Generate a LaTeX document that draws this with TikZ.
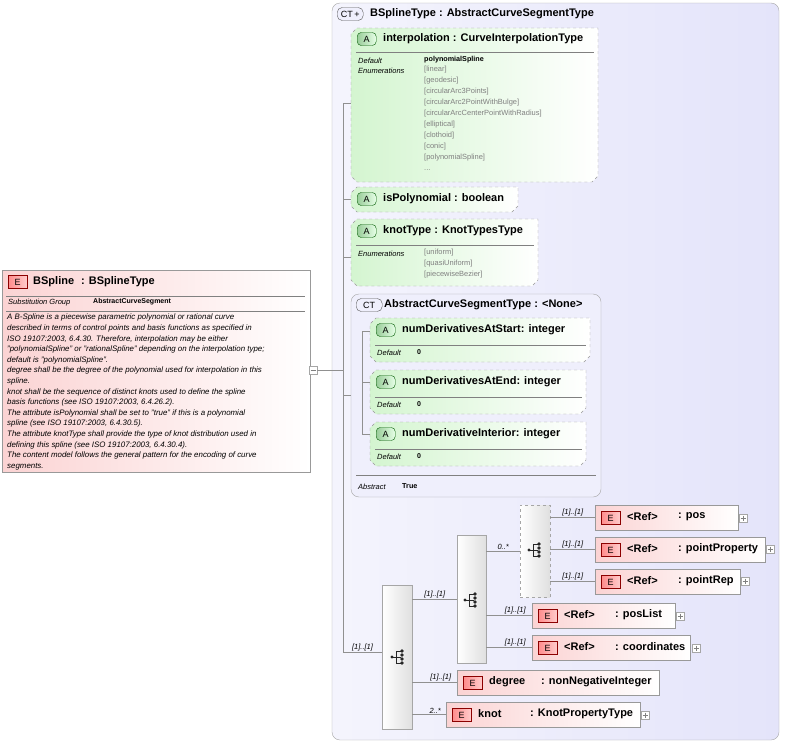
\documentclass[tikz,border=0pt]{standalone}
\usepackage{fontspec}
\setmainfont{Liberation Sans}
\definecolor{lav}{HTML}{E4E4FA}
\definecolor{grn}{HTML}{D4F5D0}
\definecolor{pnk}{HTML}{FBD3D3}
\definecolor{gline}{HTML}{909090}
\tikzset{
 ln/.style={draw=gline, line width=0.6pt},
 ttl/.style={font=\fontsize{11}{12}\selectfont\bfseries, anchor=west, inner sep=0},
 sm/.style={font=\fontsize{7.5}{10}\selectfont, anchor=west, inner sep=0},
 smi/.style={font=\fontsize{7.5}{10}\selectfont\itshape, anchor=west, inner sep=0},
 enum/.style={font=\fontsize{7.5}{11}\selectfont, text=gray, anchor=north west, inner sep=0, align=left},
 card/.style={font=\fontsize{7.5}{9}\selectfont\itshape, anchor=south, inner sep=1pt},
 eic/.style={draw=red!55!black, left color=red!45, right color=red!20, font=\fontsize{9}{9}\selectfont, minimum width=19pt, minimum height=13pt, inner sep=0, anchor=west},
 aic/.style={draw=green!35!black, rounded corners=4pt, left color=green!50!black!40, right color=green!10, font=\fontsize{9}{9}\selectfont, minimum width=19pt, minimum height=13pt, inner sep=0, anchor=west},
 ctic/.style={draw=gray!70!black, rounded corners=5pt, fill=lav!60, font=\fontsize{9}{9}\selectfont, minimum width=26pt, minimum height=13pt, inner sep=0, anchor=west},
 elem/.style={draw=gray!80, left color=pnk, right color=white, anchor=north west, inner sep=0, minimum height=25pt},
 attr/.style={draw=gray!80, dashed, left color=grn, right color=white},
 seqb/.style={draw=gray!70, left color=white, right color=gray!25, anchor=north west, inner sep=0},
 plusb/.style={draw=gray!70, fill=white, minimum size=8pt, inner sep=0},
}
\newcommand\seqicon[2]{%
 \fill[gray!30!black] (#1-6,#2) circle (1.6pt);
 \draw[gray!30!black,line width=0.8pt] (#1-6,#2)--(#1-2,#2) (#1-2,#2+6)--(#1-2,#2-6)
   (#1-2,#2-6)--(#1+3,#2-6) (#1-2,#2)--(#1+3,#2) (#1-2,#2+6)--(#1+3,#2+6);
 \fill[gray!30!black] (#1+4,#2-6) circle (1.8pt) (#1+4,#2-2) circle (1.8pt) (#1+4,#2+2) circle (1.8pt) (#1+4,#2+6) circle (1.8pt);}
\newcommand\plusm[2]{\node[plusb] at (#1,#2) {}; \draw[gray] (#1-2.5,#2)--(#1+2.5,#2) (#1,#2-2.5)--(#1,#2+2.5);}
\newcommand\attrbox[4]{%
 \draw[attr] (#1+6,#2)--(#3,#2)--(#3,#4-6)--(#3-6,#4)--(#1+6,#4)--(#1,#4-6)--(#1,#2+6)--cycle;}
\begin{document}
\begin{tikzpicture}[x=1pt,y=-1pt]
\useasboundingbox (0,0) rectangle (785,744);
% Left element
\node[draw=gray!80, left color=pnk, right color=white, minimum width=308pt, minimum height=202pt, anchor=north west, inner sep=0] (bs) at (2,270) {};
\node[eic] (bse) at (8,282) {E};
\node[ttl] at (33,282) {BSpline\hspace{7pt}: BSplineType};
\draw[gray] (6,296)--(305,296) (6,311)--(305,311);
\node[smi] at (8,303) {Substitution Group};
\node[sm, font=\fontsize{7}{9}\selectfont\bfseries] at (93,302) {AbstractCurveSegment};
\node[font=\fontsize{7.9}{10.6}\selectfont\itshape, anchor=north west, inner sep=0, align=left] at (7,314) {A B-Spline is a piecewise parametric polynomial or rational curve\\described in terms of control points and basis functions as specified in\\ISO 19107:2003, 6.4.30. Therefore, interpolation may be either\\"polynomialSpline" or "rationalSpline" depending on the interpolation type;\\default is "polynomialSpline".\\degree shall be the degree of the polynomial used for interpolation in this\\spline.\\knot shall be the sequence of distinct knots used to define the spline\\basis functions (see ISO 19107:2003, 6.4.26.2).\\The attribute isPolynomial shall be set to "true" if this is a polynomial\\spline (see ISO 19107:2003, 6.4.30.5).\\The attribute knotType shall provide the type of knot distribution used in\\defining this spline (see ISO 19107:2003, 6.4.30.4).\\The content model follows the general pattern for the encoding of curve\\segments.};
\node[plusb] (minus) at (313,370) {}; \draw[gray] (310.5,370)--(315.5,370);
% Outer CT
\draw[draw=gray!70, rounded corners=8pt, left color=lav!40, right color=lav] (332,3) rectangle (779,740);
\node[ctic] at (337,14) {CT\,+};
\node[ttl] at (370,14) {BSplineType : AbstractCurveSegmentType};
\draw[ln] (minus.east)--(343,370);
\draw[ln] (343,103)--(343,652);
\draw[ln] (343,103)--(351,103) (343,199)--(351,199) (343,257)--(351,257) (343,395)--(351,395);
% interpolation
\attrbox{351}{28}{598}{182}
\node[aic] at (357,39) {A};
\node[ttl] at (383,39) {interpolation : CurveInterpolationType};
\draw[gray] (356,52)--(594,52);
\node[smi] at (358,61) {Default};
\node[smi] at (358,71) {Enumerations};
\node[sm, font=\fontsize{7.2}{9}\selectfont\bfseries] at (424,60) {polynomialSpline};
\node[enum] at (424,66) {{[linear]}\\{[geodesic]}\\{[circularArc3Points]}\\{[circularArc2PointWithBulge]}\\{[circularArcCenterPointWithRadius]}\\{[elliptical]}\\{[clothoid]}\\{[conic]}\\{[polynomialSpline]}\\...};
% isPolynomial
\attrbox{351}{187}{518}{212}
\node[aic] at (357,199) {A};
\node[ttl] at (383,199) {isPolynomial : boolean};
% knotType
\attrbox{351}{219}{538}{286}
\node[aic] at (357,231) {A};
\node[ttl] at (383,231) {knotType : KnotTypesType};
\draw[gray] (356,245)--(534,245);
\node[smi] at (358,254) {Enumerations};
\node[enum] at (424,249) {{[uniform]}\\{[quasiUniform]}\\{[piecewiseBezier]}};
% inner CT
\draw[draw=gray!70, rounded corners=8pt, fill=white!40!lav] (351,294) rectangle (601,497);
\node[ctic] at (356,305) {CT};
\node[ttl] at (384,305) {AbstractCurveSegmentType : <None>};
\draw[ln] (362,331)--(362,434) (362,331)--(370,331) (362,382)--(370,382) (362,434)--(370,434);
\draw[gray] (356,475)--(596,475);
\node[smi] at (358,487) {Abstract};
\node[sm, font=\fontsize{7.2}{9}\selectfont\bfseries] at (402,486) {True};
\foreach \y/\x/\t in {318/590/numDerivativesAtStart, 370/586/numDerivativesAtEnd, 422/586/numDerivativeInterior}{
 \attrbox{370}{\y}{\x}{\y+44}
 \node[aic] at (376,\y+12) {A};
 \node[ttl] at (402,\y+12) {\t : integer};
 \draw[gray] (375,\y+27)--(\x-4,\y+27);
 \node[smi] at (377,\y+35) {Default};
 \node[sm, font=\fontsize{7}{9}\selectfont\bfseries] at (417,\y+34) {0};
}
% sequence boxes
\node[seqb, minimum width=30pt, minimum height=144pt] (s1) at (382,585) {};
\seqicon{398}{657}
\node[seqb, minimum width=29pt, minimum height=128pt] (s2) at (457,535) {};
\seqicon{471}{600}
\node[seqb, dashed, minimum width=30pt, minimum height=92pt] (ch) at (520,505) {};
\seqicon{535}{550}
\coordinate (t1) at (343,652);
\draw[ln] (t1)--(s1.west|-t1) node[card, midway] {[1]..[1]};
\draw[ln] (s1.east|-s2.west)--(s2.west) node[card, midway] {[1]..[1]};
\draw[ln] (s2.east|-ch.west)--(ch.west) node[card, midway] {0..*};
% elements
\node[elem, minimum width=143pt] (pos) at (595,505) {};
\node[eic] at (601,518) {E}; \node[ttl] at (627,517) {<Ref>}; \node[ttl] at (678,517) {: pos};
\plusm{743}{518}
\node[elem, minimum width=170pt] (pp) at (595,537) {};
\node[eic] at (601,550) {E}; \node[ttl] at (627,549) {<Ref>}; \node[ttl] at (678,549) {: pointProperty};
\plusm{770}{549}
\node[elem, minimum width=145pt] (pr) at (595,569) {};
\node[eic] at (601,582) {E}; \node[ttl] at (627,581) {<Ref>}; \node[ttl] at (678,581) {: pointRep};
\plusm{745}{581}
\node[elem, minimum width=143pt] (pl) at (532,603) {};
\node[eic] at (538,616) {E}; \node[ttl] at (564,615) {<Ref>}; \node[ttl] at (615,615) {: posList};
\plusm{680}{616}
\node[elem, minimum width=158pt] (co) at (532,635) {};
\node[eic] at (538,648) {E}; \node[ttl] at (564,647) {<Ref>}; \node[ttl] at (615,647) {: coordinates};
\plusm{696}{648}
\node[elem, minimum width=202pt] (dg) at (457,670) {};
\node[eic] at (463,683) {E}; \node[ttl] at (489,682) {degree}; \node[ttl] at (541,682) {: nonNegativeInteger};
\node[elem, minimum width=194pt] (kn) at (446,702) {};
\node[eic] at (452,715) {E}; \node[ttl] at (478,714) {knot}; \node[ttl] at (530,714) {: KnotPropertyType};
\plusm{645}{715}
\draw[ln] (ch.east|-pos.west)--(pos.west) node[card, midway] {[1]..[1]};
\draw[ln] (ch.east|-pp.west)--(pp.west) node[card, midway] {[1]..[1]};
\draw[ln] (ch.east|-pr.west)--(pr.west) node[card, midway] {[1]..[1]};
\draw[ln] (s2.east|-pl.west)--(pl.west) node[card, midway, xshift=6pt] {[1]..[1]};
\draw[ln] (s2.east|-co.west)--(co.west) node[card, midway, xshift=6pt] {[1]..[1]};
\draw[ln] (s1.east|-dg.west)--(dg.west) node[card, midway, xshift=6pt] {[1]..[1]};
\draw[ln] (s1.east|-kn.west)--(kn.west) node[card, midway, xshift=6pt] {2..*};
\end{tikzpicture}
\end{document}
